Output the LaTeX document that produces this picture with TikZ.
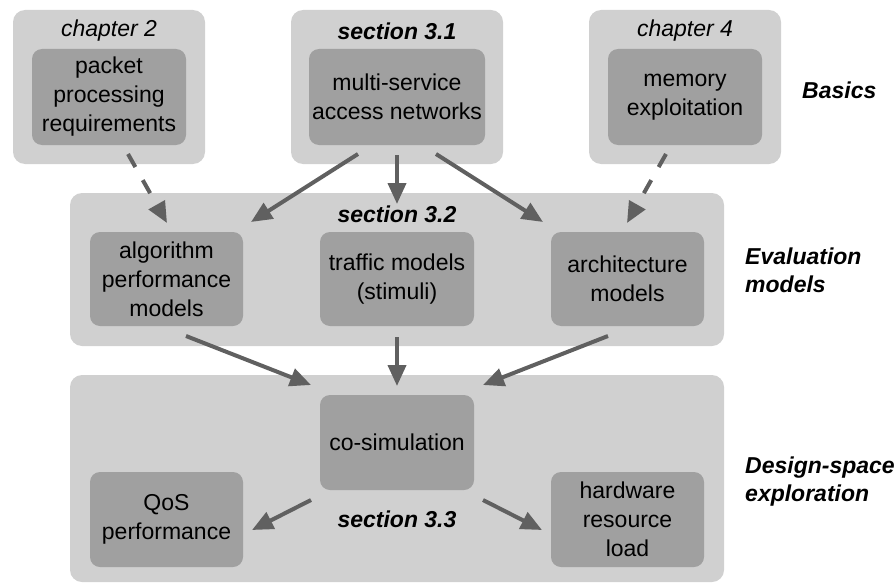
\documentclass[tikz,border=0pt]{standalone}
\usepackage{fontspec}
\setmainfont{Liberation Sans}
\usetikzlibrary{arrows.meta}
\definecolor{outergray}{HTML}{D0D0D0}
\definecolor{innergray}{HTML}{A0A0A0}
\definecolor{arrowgray}{HTML}{606060}
\begin{document}
\begin{tikzpicture}[x=1pt,y=-1pt,
  outerbox/.style={fill=outergray, rounded corners=12pt, inner sep=0pt},
  innerbox/.style={fill=innergray, rounded corners=10pt, inner sep=0pt, align=center,
    font=\fontsize{23}{29}\selectfont},
  tag/.style={inner sep=0pt, font=\fontsize{23}{29}\selectfont\itshape},
  btag/.style={inner sep=0pt, font=\fontsize{23}{29}\selectfont\bfseries\itshape},
  side/.style={inner sep=0pt, anchor=west, align=left, font=\fontsize{23}{28}\selectfont\bfseries\itshape},
  conn/.style={draw=arrowgray, line width=4pt, -{Triangle[length=21pt,width=18pt]}},
  dconn/.style={conn, dash pattern=on 15pt off 15pt}]
\useasboundingbox (0,0) rectangle (896,586);
% top outer boxes
\node[outerbox, minimum width=192pt, minimum height=154pt] (ch2) at (109,87) {};
\node[outerbox, minimum width=212pt, minimum height=154pt] (s31) at (397,87) {};
\node[outerbox, minimum width=192pt, minimum height=154pt] (ch4) at (685,87) {};
% middle and bottom outer boxes
\node[outerbox, minimum width=654pt, minimum height=153pt] (mid) at (397,269.5) {};
\node[outerbox, minimum width=654pt, minimum height=207pt] (bot) at (397,478.5) {};
% inner boxes
\node[innerbox, minimum width=154pt, minimum height=96pt] (ppr) at (109,97) {packet\\processing\\requirements};
\node[innerbox, minimum width=176pt, minimum height=96pt] (msa) at (397,97) {multi-service\\access networks};
\node[innerbox, minimum width=154pt, minimum height=96pt] (mem) at (685,97) {memory\\exploitation};
\node[innerbox, minimum width=153pt, minimum height=94pt] (alg) at (166.5,279) {algorithm\\performance\\models};
\node[innerbox, minimum width=154pt, minimum height=94pt] (traf) at (397,279) {traffic models\\(stimuli)};
\node[innerbox, minimum width=153pt, minimum height=94pt] (arch) at (627.5,279) {architecture\\models};
\node[innerbox, minimum width=154pt, minimum height=95pt] (cosim) at (397,442.5) {co-simulation};
\node[innerbox, minimum width=153pt, minimum height=95pt] (qos) at (166.5,519.5) {QoS\\performance};
\node[innerbox, minimum width=153pt, minimum height=95pt] (hw) at (627.5,519.5) {hardware\\resource\\load};
% tags
\node[tag] (t1) at (109,31) {chapter 2};
\node[btag] (t2) at (397,31) {section 3.1};
\node[tag] (t3) at (685,31) {chapter 4};
\node[btag] (t4) at (397,214) {section 3.2};
\node[btag] (t5) at (397,519) {section 3.3};
% side labels
\node[side] (l1) at (802,90) {Basics};
\node[side] (l2) at (745,270) {Evaluation\\models};
\node[side] (l3) at (745,482) {Design-space\\exploration};
% connector end points
\coordinate (d1s) at (128,154); \coordinate (d1e) at (167,223);
\coordinate (d2s) at (666,154); \coordinate (d2e) at (627,223);
\coordinate (a1s) at (358,154); \coordinate (a1e) at (251,222);
\coordinate (a2s) at (397,155); \coordinate (a2e) at (397,204);
\coordinate (a3s) at (436,154); \coordinate (a3e) at (543,222);
\coordinate (b1s) at (186,336); \coordinate (b1e) at (311,385);
\coordinate (b2s) at (397,337); \coordinate (b2e) at (397,386);
\coordinate (b3s) at (608,336); \coordinate (b3e) at (483,385);
\coordinate (c1s) at (311,500); \coordinate (c1e) at (252,530);
\coordinate (c2s) at (483,500); \coordinate (c2e) at (542,530);
% connectors
\draw[dconn] (d1s) -- (d1e);
\draw[dconn] (d2s) -- (d2e);
\draw[conn] (a1s) -- (a1e);
\draw[conn] (a2s) -- (a2e);
\draw[conn] (a3s) -- (a3e);
\draw[conn] (b1s) -- (b1e);
\draw[conn] (b2s) -- (b2e);
\draw[conn] (b3s) -- (b3e);
\draw[conn] (c1s) -- (c1e);
\draw[conn] (c2s) -- (c2e);
\end{tikzpicture}
\end{document}
